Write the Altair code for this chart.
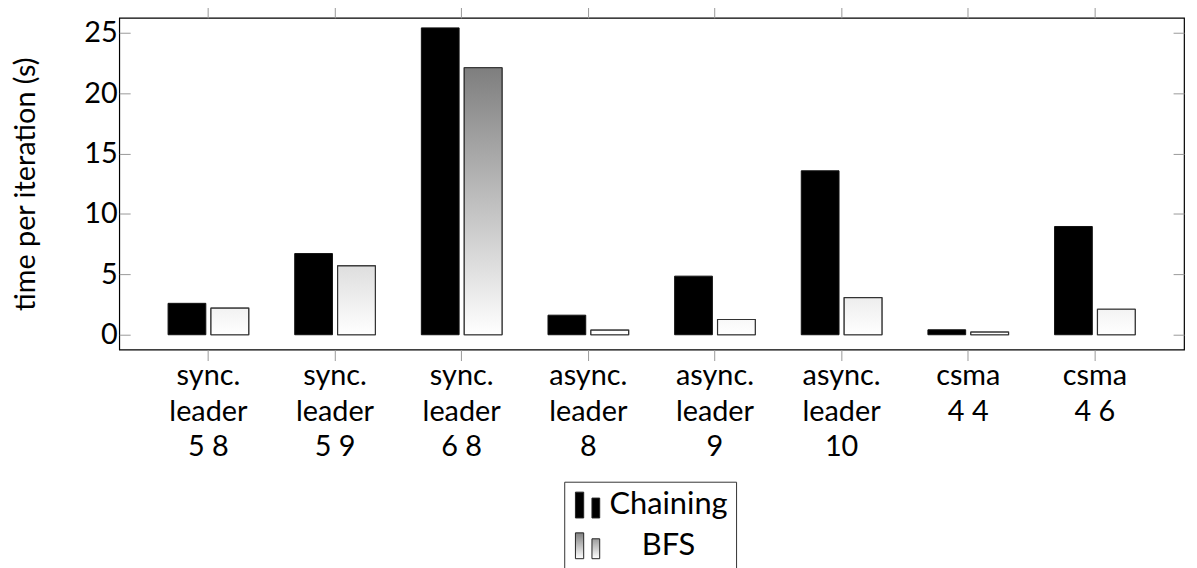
import altair as alt
import pandas as pd

# ---- data ----
categories = [
    "sync.\nleader\n5 8", "sync.\nleader\n5 9", "sync.\nleader\n6 8",
    "async.\nleader\n8", "async.\nleader\n9", "async.\nleader\n10",
    "csma\n4 4", "csma\n4 6",
]
chaining = [2.6, 6.72, 25.4, 1.62, 4.85, 13.57, 0.41, 8.96]
bfs = [2.2, 5.7, 22.1, 0.38, 1.26, 3.07, 0.22, 2.11]
methods = ["Chaining", "BFS"]
y_ticks = [0, 5, 10, 15, 20, 25]
y_title = "time per iteration (s)"

rows = []
for c, a, b in zip(categories, chaining, bfs):
    rows.append({"case": c, "method": methods[0], "time": a})
    rows.append({"case": c, "method": methods[1], "time": b})
df = pd.DataFrame(rows)

FONT = "Lato"
FS = 29
TICK_GRAY = "#999999"

x_scale = alt.Scale(domain=categories, paddingInner=0, paddingOuter=0.204)
y_scale = alt.Scale(domain=[-1.23, 26.23], nice=False, zero=False)
off_scale = alt.Scale(domain=methods, paddingInner=0.12, paddingOuter=0.536)

legend_grad = ("{gradient: 'linear', x1: 0, y1: 0, x2: 0, y2: 1, "
               "stops: [{offset: 0, color: '#808080'}, {offset: 1, color: '#ffffff'}]}")
color_scale = alt.Scale(domain=methods, range=["#000000", alt.ExprRef(expr=legend_grad)])

legend = alt.Legend(
    title=None, orient="none", legendX=448, legendY=467, direction="vertical",
    symbolType="M-0.94,-1H-0.3V1H-0.94Z M0.34,-0.54H0.94V1H0.34Z",
    symbolSize=676, symbolStrokeColor="#222222", symbolStrokeWidth=1,
    labelFont=FONT, labelFontSize=31, labelColor="black", labelAlign="center",
    labelOffset=66, labelLimit=0, rowPadding=9, padding=8,
    strokeColor="#333333", fillColor="white", cornerRadius=0,
)

bottom_axis = alt.Axis(
    orient="bottom", title=None, domain=False, tickSize=11, bandPosition=0.5,
    labelExpr="split(datum.label, '\\n')", labelAngle=0, labelPadding=1,
    labelLineHeight=36, labelBaseline="top", labelFont=FONT, labelFontSize=FS,
    labelOverlap=False,
)
top_axis = alt.Axis(
    orient="top", title=None, domain=False, labels=False, tickSize=11, bandPosition=0.5,
)
left_axis = alt.Axis(
    orient="left", values=y_ticks, grid=False, domain=False,
    tickSize=alt.ExprRef(expr="-11"), labelPadding=13,
    labelFont=FONT, labelFontSize=FS, labelFlush=False,
    title=y_title, titleFont=FONT, titleFontSize=FS, titleFontWeight="normal",
    titlePadding=44,
)
right_axis = alt.Axis(
    orient="right", values=y_ticks, grid=False, domain=False, labels=False,
    tickSize=alt.ExprRef(expr="-11"), title=None,
)

bars = alt.Chart(df).mark_bar(stroke="#111111", strokeWidth=1).encode(
    x=alt.X("case:N", scale=x_scale, axis=bottom_axis),
    xOffset=alt.XOffset("method:N", scale=off_scale),
    y=alt.Y("time:Q", scale=y_scale, axis=left_axis),
    color=alt.Color("method:N", scale=color_scale, legend=legend),
)

overlay = (
    alt.Chart(df)
    .transform_filter(alt.datum.method == methods[1])
    .transform_calculate(g="round(255 - 5.84 * datum.time)")
    .transform_calculate(
        grad="{gradient: 'linear', x1: 0, y1: 0, x2: 0, y2: 1, stops: ["
             "{offset: 0, color: 'rgb(' + datum.g + ',' + datum.g + ',' + datum.g + ')'}, "
             "{offset: 1, color: '#ffffff'}]}"
    )
    .mark_bar(stroke="#333333", strokeWidth=1.2)
    .encode(
        x=alt.X("case:N", scale=x_scale, axis=top_axis),
        xOffset=alt.XOffset("method:N", scale=off_scale),
        y=alt.Y("time:Q", scale=y_scale, axis=right_axis),
        fill=alt.Fill("grad:N", scale=None, legend=None),
    )
)

chart = (
    alt.layer(bars, overlay)
    .properties(
        width=1072, height=334,
        autosize=alt.AutoSizeParams(type="none"),
        padding={"left": 112, "top": 8, "right": 5, "bottom": 225},
        background="white",
    )
    .configure_view(stroke="black", strokeWidth=1.2)
    .configure_axis(tickColor=TICK_GRAY, tickWidth=1, labelColor="black", titleColor="black")
)

chart.save("out.html", embed_options={"renderer": "svg", "actions": False})
